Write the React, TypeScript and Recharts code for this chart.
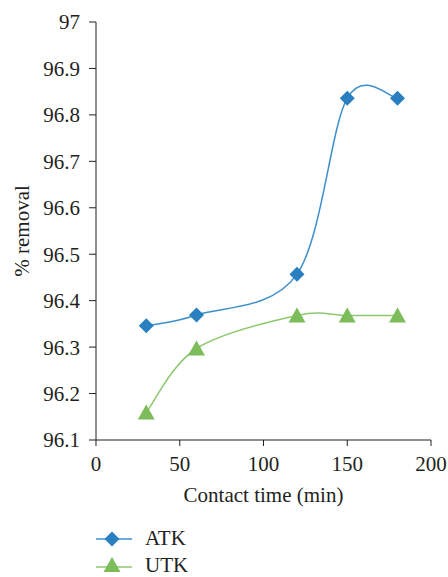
import { LineChart, Line, XAxis, YAxis, Legend } from "recharts"

const times = [30, 60, 120, 150, 180]
const atk = [96.346, 96.369, 96.457, 96.836, 96.836]
const utk = [96.159, 96.297, 96.368, 96.368, 96.368]
const xTicks = [0, 50, 100, 150, 200]
const yTicks = [96.1, 96.2, 96.3, 96.4, 96.5, 96.6, 96.7, 96.8, 96.9, 97]

const data = times.map((t, i) => ({ time: t, ATK: atk[i], UTK: utk[i] }))

const FONT = "'Liberation Serif', 'DejaVu Serif', serif"
const FS = 21
const INK = "#231f20"
const BLUE_LINE = "#3d8fcc"
const BLUE = "#2a7fc0"
const GREEN_LINE = "#8dc86f"
const GREEN = "#7cbd5a"

// spreadsheet-style smoothed line (cardinal spline, tension 0)
const smooth = (context: any) => {
  let pts: [number, number][] = []
  return {
    areaStart() {},
    areaEnd() {},
    lineStart() {
      pts = []
    },
    lineEnd() {
      if (!pts.length) return
      context.moveTo(pts[0][0], pts[0][1])
      for (let i = 0; i < pts.length - 1; i++) {
        const p0 = pts[Math.max(i - 1, 0)]
        const p1 = pts[i]
        const p2 = pts[i + 1]
        const p3 = pts[Math.min(i + 2, pts.length - 1)]
        context.bezierCurveTo(
          p1[0] + (p2[0] - p0[0]) / 6,
          p1[1] + (p2[1] - p0[1]) / 6,
          p2[0] - (p3[0] - p1[0]) / 6,
          p2[1] - (p3[1] - p1[1]) / 6,
          p2[0],
          p2[1]
        )
      }
    },
    point(x: number, y: number) {
      pts.push([x, y])
    },
  }
}

const diamond = (cx: number, cy: number, r = 7.5) =>
  `M${cx},${cy - r}L${cx + r},${cy}L${cx},${cy + r}L${cx - r},${cy}Z`

const triangle = (cx: number, cy: number) =>
  `M${cx},${cy - 8}L${cx + 8.5},${cy + 7}L${cx - 8.5},${cy + 7}Z`

const DiamondDot = (props: any) => {
  const { cx, cy, index } = props
  return <path key={`d-${index}`} d={diamond(cx, cy)} fill={BLUE} />
}

const TriangleDot = (props: any) => {
  const { cx, cy, index } = props
  return <path key={`t-${index}`} d={triangle(cx, cy)} fill={GREEN} />
}

const LegendBox = () => (
  <svg width={130} height={55} style={{ display: "block" }}>
    <line x1={6} x2={42} y1={18} y2={18} stroke={BLUE_LINE} strokeWidth={1.5} />
    <path d={diamond(22, 18)} fill={BLUE} />
    <text x={55} y={24} fontSize={FS} fontFamily={FONT} fill={INK}>
      ATK
    </text>
    <line x1={6} x2={42} y1={46} y2={46} stroke={GREEN_LINE} strokeWidth={1.5} />
    <path d={triangle(22, 44)} fill={GREEN} />
    <text x={55} y={51} fontSize={FS} fontFamily={FONT} fill={INK}>
      UTK
    </text>
  </svg>
)

const YTitle = (props: any) => {
  const vb = props.viewBox || { y: 22, height: 418 }
  const cy = vb.y + vb.height / 2
  return (
    <text
      x={22}
      y={cy}
      transform={`rotate(-90, 22, ${cy})`}
      textAnchor="middle"
      dominantBaseline="central"
      fontSize={FS}
      fontFamily={FONT}
      fill={INK}
    >
      % removal
    </text>
  )
}

export default function App() {
  return (
    <div style={{ position: "absolute", left: 0, top: 0 }}>
      <LineChart
        width={448}
        height={577}
        data={data}
        margin={{ top: 22, right: 17, bottom: 67, left: 0 }}
      >
        <XAxis
          dataKey="time"
          type="number"
          domain={[0, 200]}
          ticks={xTicks}
          stroke={INK}
          tickSize={6}
          tickMargin={10}
          height={70}
          tick={{ fill: INK, fontSize: FS, fontFamily: FONT }}
          label={{
            value: "Contact time (min)",
            position: "insideBottom",
            offset: 8,
            fill: INK,
            fontSize: FS,
            fontFamily: FONT,
          }}
        />
        <YAxis
          type="number"
          domain={[96.1, 97]}
          ticks={yTicks}
          interval={0}
          stroke={INK}
          width={96}
          tickSize={7}
          tickMargin={9}
          tickFormatter={(v: number) => (Number.isInteger(v) ? String(v) : v.toFixed(1))}
          tick={{ fill: INK, fontSize: FS, fontFamily: FONT }}
          label={{ content: YTitle }}
        />
        <Legend
          layout="vertical"
          align="center"
          verticalAlign="middle"
          wrapperStyle={{ top: 521, left: 90, width: 130 }}
          content={() => <LegendBox />}
        />
        <Line
          dataKey="ATK"
          type={smooth as any}
          stroke={BLUE_LINE}
          strokeWidth={1.5}
          dot={DiamondDot}
          activeDot={false}
          isAnimationActive={false}
        />
        <Line
          dataKey="UTK"
          type={smooth as any}
          stroke={GREEN_LINE}
          strokeWidth={1.5}
          dot={TriangleDot}
          activeDot={false}
          isAnimationActive={false}
        />
      </LineChart>
    </div>
  )
}
